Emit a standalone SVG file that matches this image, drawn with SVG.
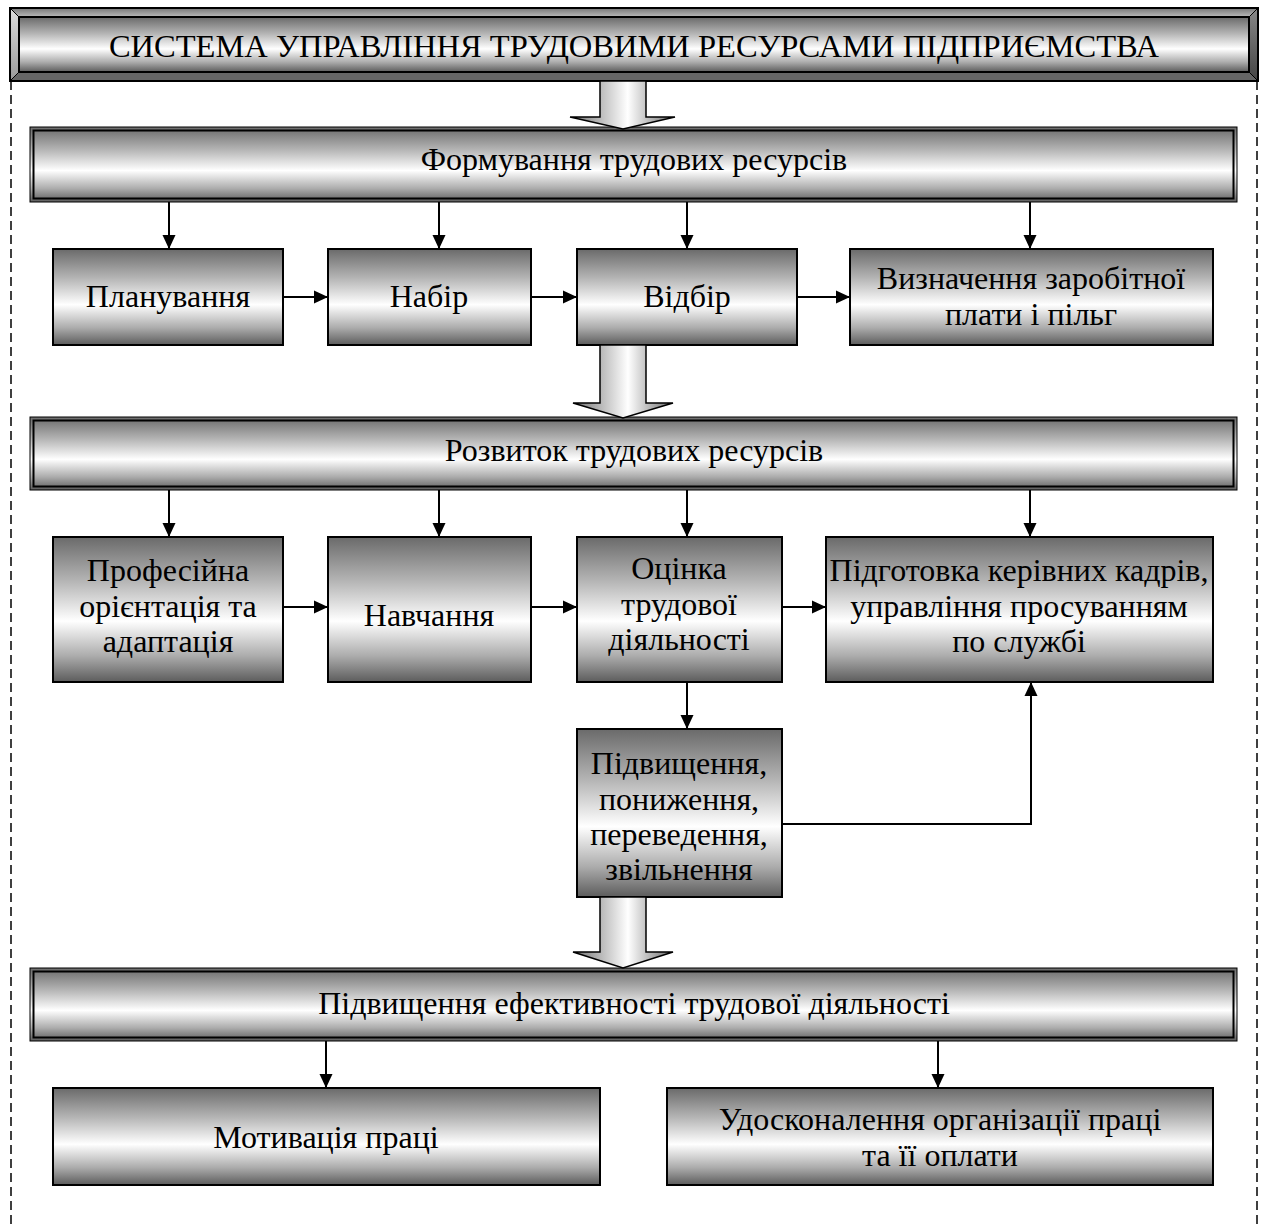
<svg xmlns="http://www.w3.org/2000/svg" width="1264" height="1227" viewBox="0 0 1264 1227">
<defs>
<linearGradient id="gv" x1="0" y1="0" x2="0" y2="1">
<stop offset="0" stop-color="#6a6a6a"/>
<stop offset="0.3" stop-color="#b4b4b4"/>
<stop offset="0.58" stop-color="#ffffff"/>
<stop offset="0.82" stop-color="#acacac"/>
<stop offset="1" stop-color="#5c5c5c"/>
</linearGradient>
<linearGradient id="gh" x1="0" y1="0" x2="1" y2="0">
<stop offset="0" stop-color="#707070"/>
<stop offset="0.55" stop-color="#ffffff"/>
<stop offset="1" stop-color="#6a6a6a"/>
</linearGradient>
<linearGradient id="bevTop" x1="0" y1="0" x2="0" y2="1">
<stop offset="0" stop-color="#777"/>
<stop offset="1" stop-color="#bbb"/>
</linearGradient>
<linearGradient id="bevLeft" x1="0" y1="0" x2="0" y2="1">
<stop offset="0" stop-color="#ddd"/>
<stop offset="1" stop-color="#999"/>
</linearGradient>
<linearGradient id="bevRight" x1="0" y1="0" x2="0" y2="1">
<stop offset="0" stop-color="#888"/>
<stop offset="1" stop-color="#444"/>
</linearGradient>
<marker id="ah" viewBox="0 0 14 14" refX="14" refY="7" markerWidth="14" markerHeight="14" markerUnits="userSpaceOnUse" orient="auto">
<path d="M0,0.5 L14,7 L0,13.5 Z" fill="#000"/>
</marker>
<style>
.box{fill:url(#gv);stroke:#000;stroke-width:2}
.band-o{fill:url(#gv);stroke:#000;stroke-width:1}
.band-i{fill:none;stroke:#000;stroke-width:2}
.big{fill:url(#gh);stroke:#000;stroke-width:1.5;stroke-linejoin:miter}
.t{font-family:"Liberation Serif","Times New Roman",serif;font-size:32px;fill:#000;text-anchor:middle}
.tt{font-family:"Liberation Serif","Times New Roman",serif;font-size:32.5px;fill:#000;text-anchor:middle}
.c{fill:none;stroke:#000;stroke-width:2}
.dash{fill:none;stroke:#000;stroke-width:1.5;stroke-dasharray:9 5}
</style>
</defs>
<rect width="1264" height="1227" fill="#fff"/>

<g id="frame">
<line class="dash" x1="11" y1="81" x2="11" y2="1227"/>
<line class="dash" x1="1257" y1="81" x2="1257" y2="1227"/>
</g>

<g id="title">
<rect x="10" y="8" width="1248" height="73" fill="#888"/>
<polygon points="10,8 1258,8 1249,17 19,17" fill="url(#bevTop)"/>
<polygon points="10,8 19,17 19,72 10,81" fill="url(#bevLeft)"/>
<polygon points="10,81 19,72 1249,72 1258,81" fill="#666"/>
<polygon points="1258,8 1258,81 1249,72 1249,17" fill="url(#bevRight)"/>
<rect x="19" y="17" width="1230" height="55" fill="url(#gv)" stroke="#000" stroke-width="2"/>
<rect x="10" y="8" width="1248" height="73" fill="none" stroke="#000" stroke-width="2"/>
<line x1="10" y1="8" x2="19" y2="17" stroke="#000" stroke-width="1"/>
<line x1="1258" y1="8" x2="1249" y2="17" stroke="#000" stroke-width="1"/>
<line x1="10" y1="81" x2="19" y2="72" stroke="#000" stroke-width="1"/>
<line x1="1258" y1="81" x2="1249" y2="72" stroke="#000" stroke-width="1"/>
<text class="tt" x="634" y="57">СИСТЕМА УПРАВЛІННЯ ТРУДОВИМИ РЕСУРСАМИ ПІДПРИЄМСТВА</text>
</g>

<g id="band1">
<rect class="band-o" x="30" y="127" width="1207" height="75"/>
<rect class="band-i" x="33.5" y="130.5" width="1200" height="68"/>
<text class="t" x="634" y="170">Формування трудових ресурсів</text>
</g>

<g id="plan"><rect class="box" x="53" y="249" width="230" height="96"/><text class="t" x="168" y="307">Планування</text></g>
<g id="nabir"><rect class="box" x="328" y="249" width="203" height="96"/><text class="t" x="429" y="307">Набір</text></g>
<g id="vidbir"><rect class="box" x="577" y="249" width="220" height="96"/><text class="t" x="687" y="307">Відбір</text></g>
<g id="zarplata"><rect class="box" x="850" y="249" width="363" height="96"/><text class="t" x="1031" y="289">Визначення заробітної</text><text class="t" x="1031" y="325">плати і пільг</text></g>

<g id="band2">
<rect class="band-o" x="30" y="417" width="1207" height="73"/>
<rect class="band-i" x="33.5" y="420.5" width="1200" height="66"/>
<text class="t" x="634" y="461">Розвиток трудових ресурсів</text>
</g>

<g id="proforient"><rect class="box" x="53" y="537" width="230" height="145"/><text class="t" x="168" y="581">Професійна</text><text class="t" x="168" y="617">орієнтація та</text><text class="t" x="168" y="652">адаптація</text></g>
<g id="navch"><rect class="box" x="328" y="537" width="203" height="145"/><text class="t" x="429" y="626">Навчання</text></g>
<g id="ocinka"><rect class="box" x="577" y="537" width="205" height="145"/><text class="t" x="679" y="579">Оцінка</text><text class="t" x="679" y="615">трудової</text><text class="t" x="679" y="650">діяльності</text></g>
<g id="pidgotovka"><rect class="box" x="826" y="537" width="387" height="145"/><text class="t" x="1019" y="581">Підготовка керівних кадрів,</text><text class="t" x="1019" y="617">управління просуванням</text><text class="t" x="1019" y="652">по службі</text></g>

<g id="pidvysch"><rect class="box" x="577" y="729" width="205" height="168"/><text class="t" x="679" y="774">Підвищення,</text><text class="t" x="679" y="810">пониження,</text><text class="t" x="679" y="845">переведення,</text><text class="t" x="679" y="880">звільнення</text></g>

<g id="band3">
<rect class="band-o" x="30" y="968" width="1207" height="73"/>
<rect class="band-i" x="33.5" y="971.5" width="1200" height="66"/>
<text class="t" x="634" y="1014">Підвищення ефективності трудової діяльності</text>
</g>

<g id="motyv"><rect class="box" x="53" y="1088" width="547" height="97"/><text class="t" x="326" y="1148">Мотивація праці</text></g>
<g id="udosk"><rect class="box" x="667" y="1088" width="546" height="97"/><text class="t" x="940" y="1130">Удосконалення організації праці</text><text class="t" x="940" y="1166">та її оплати</text></g>

<g id="connectors">
<path class="big" d="M600,81 L646,81 L646,117 L675,117 L623,129 L570,117 L600,117 Z"/>
<path class="big" d="M600,345 L646,345 L646,403 L673,403 L623,418 L573,403 L600,403 Z"/>
<path class="big" d="M600,897 L646,897 L646,952 L673,952 L623,968 L573,952 L600,952 Z"/>

<line class="c" x1="169" y1="202" x2="169" y2="249" marker-end="url(#ah)"/>
<line class="c" x1="439" y1="202" x2="439" y2="249" marker-end="url(#ah)"/>
<line class="c" x1="687" y1="202" x2="687" y2="249" marker-end="url(#ah)"/>
<line class="c" x1="1030" y1="202" x2="1030" y2="249" marker-end="url(#ah)"/>

<line class="c" x1="283" y1="297" x2="328" y2="297" marker-end="url(#ah)"/>
<line class="c" x1="531" y1="297" x2="577" y2="297" marker-end="url(#ah)"/>
<line class="c" x1="797" y1="297" x2="850" y2="297" marker-end="url(#ah)"/>

<line class="c" x1="169" y1="490" x2="169" y2="537" marker-end="url(#ah)"/>
<line class="c" x1="439" y1="490" x2="439" y2="537" marker-end="url(#ah)"/>
<line class="c" x1="687" y1="490" x2="687" y2="537" marker-end="url(#ah)"/>
<line class="c" x1="1030" y1="490" x2="1030" y2="537" marker-end="url(#ah)"/>

<line class="c" x1="283" y1="607" x2="328" y2="607" marker-end="url(#ah)"/>
<line class="c" x1="531" y1="607" x2="577" y2="607" marker-end="url(#ah)"/>
<line class="c" x1="782" y1="607" x2="826" y2="607" marker-end="url(#ah)"/>

<line class="c" x1="687" y1="682" x2="687" y2="729" marker-end="url(#ah)"/>
<path class="c" d="M782,824 L1031,824 L1031,682" marker-end="url(#ah)"/>

<line class="c" x1="326" y1="1041" x2="326" y2="1088" marker-end="url(#ah)"/>
<line class="c" x1="938" y1="1041" x2="938" y2="1088" marker-end="url(#ah)"/>
</g>
</svg>
